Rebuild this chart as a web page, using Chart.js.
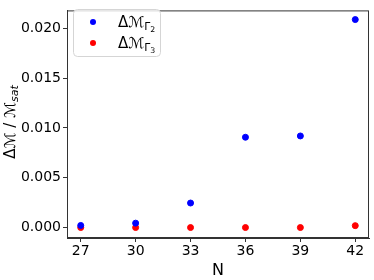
<!DOCTYPE html>
<html>
<head>
<meta charset="utf-8">
<script src="https://cdn.jsdelivr.net/npm/chart.js@4"></script>
<style>
  html, body { margin: 0; padding: 0; background: #fff; }
  #wrap { width: 374px; height: 280px; }
</style>
</head>
<body>
<div id="wrap"><canvas id="myChart"></canvas></div>
<script>
const nValues = [27, 30, 33, 36, 39, 42];
const gamma2 = [0.00022, 0.00045, 0.00247, 0.00907, 0.0092, 0.02088];
const gamma3 = [0.00001, 0.00001, 0.00001, 0.00001, 0.00001, 0.0002];
const xTicks = [27, 30, 33, 36, 39, 42];
const yTicks = [0, 0.005, 0.01, 0.015, 0.02];

const FONT = "'DejaVu Sans', sans-serif";

function toPoints(ys) {
    return nValues.map((n, i) => ({ x: n, y: ys[i] }));
}

// draws "ΔM_Γk" style text with subscripts
function drawSubText(ctx, x, y, main, sub1, sub2, size) {
    ctx.textBaseline = 'alphabetic';
    ctx.textAlign = 'left';
    ctx.font = size + 'px ' + FONT;
    ctx.fillText(main, x, y);
    let w = ctx.measureText(main).width;
    ctx.font = (size * 0.72) + 'px ' + FONT;
    ctx.fillText(sub1, x + w, y + size * 0.22);
    let w2 = ctx.measureText(sub1).width;
    if (sub2) {
        ctx.font = (size * 0.52) + 'px ' + FONT;
        ctx.fillText(sub2, x + w + w2, y + size * 0.36);
    }
}

const framePlugin = {
    id: 'frame',
    afterDraw(chart) {
        const ctx = chart.ctx;
        const a = chart.chartArea;
        ctx.save();
        ctx.strokeStyle = '#333';
        ctx.lineWidth = 1;
        ctx.strokeRect(a.left + 0.5, a.top + 0.5, a.right - a.left - 1, a.bottom - a.top - 1);

        // legend box
        const bx = 73, by = 9, bw = 87, bh = 47, r = 4;
        ctx.strokeStyle = '#d5d5d5';
        ctx.fillStyle = 'rgba(255,255,255,0.8)';
        ctx.beginPath();
        ctx.roundRect(bx + 0.5, by + 0.5, bw, bh, r);
        ctx.fill();
        ctx.stroke();

        const items = [
            { color: '#0000ff', sub: '2', y: 22 },
            { color: '#ff0000', sub: '3', y: 43 }
        ];
        items.forEach(it => {
            ctx.fillStyle = it.color;
            ctx.beginPath();
            ctx.arc(93, it.y, 3, 0, Math.PI * 2);
            ctx.fill();
            ctx.fillStyle = '#000';
            drawSubText(ctx, 118, it.y + 5, 'Δℳ', 'Γ', it.sub, 15);
        });

        // y axis title, rotated
        ctx.translate(11, 122);
        ctx.rotate(-Math.PI / 2);
        ctx.fillStyle = '#000';
        ctx.font = '15px ' + FONT;
        const part1 = 'Δℳ / ℳ';
        const w1 = ctx.measureText(part1).width;
        ctx.font = 'italic 11px ' + FONT;
        const w2 = ctx.measureText('sat').width;
        const start = -(w1 + w2) / 2;
        ctx.font = '15px ' + FONT;
        ctx.textBaseline = 'middle';
        ctx.fillText(part1, start, 0);
        ctx.font = 'italic 11px ' + FONT;
        ctx.fillText('sat', start + w1, 4);
        ctx.restore();
    }
};

const ctx = document.getElementById('myChart');
const myChart = new Chart(ctx, {
    type: 'scatter',
    data: {
        datasets: [{
            label: 'ΔℳΓ2',
            data: toPoints(gamma2),
            backgroundColor: '#0000ff',
            borderColor: '#0000ff',
            pointRadius: 3
        }, {
            label: 'ΔℳΓ3',
            data: toPoints(gamma3),
            backgroundColor: '#ff0000',
            borderColor: '#ff0000',
            pointRadius: 3
        }]
    },
    options: {
        responsive: true,
        maintainAspectRatio: false,
        animation: false,
        layout: { padding: { top: 3, right: 3, left: 0, bottom: 0 } },
        plugins: {
            legend: { display: false },
            tooltip: { enabled: false }
        },
        scales: {
            x: {
                type: 'linear',
                min: 26.25,
                max: 42.75,
                afterBuildTicks: axis => { axis.ticks = xTicks.map(v => ({ value: v })); },
                afterFit: axis => { axis.height = 42; },
                grid: { drawOnChartArea: false, drawTicks: true, tickLength: 4, color: '#333' },
                border: { display: true, color: '#333' },
                ticks: { color: '#000', font: { family: FONT, size: 14 }, padding: 1, maxRotation: 0 },
                title: { display: true, text: 'N', color: '#000', font: { family: FONT, size: 16 }, padding: { top: 0, bottom: 0 } }
            },
            y: {
                min: -0.00104,
                max: 0.0218,
                afterBuildTicks: axis => { axis.ticks = yTicks.map(v => ({ value: v })); },
                afterFit: axis => { axis.width = 67; },
                grid: { drawOnChartArea: false, drawTicks: true, tickLength: 4, color: '#333' },
                border: { display: true, color: '#333' },
                ticks: {
                    color: '#000',
                    font: { family: FONT, size: 14 },
                    padding: 2,
                    callback: v => v.toFixed(3)
                }
            }
        }
    },
    plugins: [framePlugin]
});
</script>
</body>
</html>
